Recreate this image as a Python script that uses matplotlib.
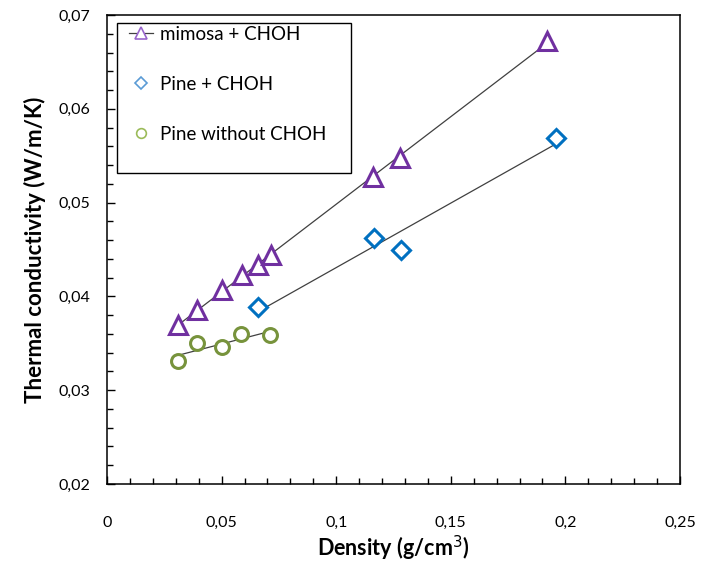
import numpy as np
import matplotlib
matplotlib.use("Agg")
import matplotlib.pyplot as plt
from matplotlib.lines import Line2D
from matplotlib.patches import Rectangle
from matplotlib.ticker import MultipleLocator, FuncFormatter

plt.rcParams["font.family"] = ["Lato", "DejaVu Sans"]

# density (g/cm3) and thermal conductivity (W/m/K)
mimosa_x = [0.0311, 0.0394, 0.0503, 0.0588, 0.0660, 0.0716, 0.1161, 0.1278, 0.1920]
mimosa_y = [0.0370, 0.0385, 0.0407, 0.0423, 0.0434, 0.0444, 0.0527, 0.0548, 0.0672]
pine_x = [0.0658, 0.1165, 0.1281, 0.1959]
pine_y = [0.0389, 0.0462, 0.0449, 0.0569]
pine_raw_x = [0.0308, 0.0391, 0.0500, 0.0583, 0.0711]
pine_raw_y = [0.0331, 0.0350, 0.0346, 0.0360, 0.0359]

PURPLE, BLUE, GREEN, TREND = "#7030A0", "#0070C0", "#77933C", "#404040"
W, H = 704, 565

fig = plt.figure(figsize=(W / 100, H / 100), dpi=100)
ax = fig.add_axes([107 / W, 1 - 484 / H, (680 - 107) / W, (484 - 15) / H])

series = [(mimosa_x, mimosa_y, "^", PURPLE, 13),
          (pine_x, pine_y, "D", BLUE, 9),
          (pine_raw_x, pine_raw_y, "o", GREEN, 10)]
for xs, ys, mk, col, ms in series:
    xs, ys = np.array(xs), np.array(ys)
    k, b = np.polyfit(xs, ys, 1)  # linear trendline over the data range
    xx = np.array([xs.min(), xs.max()])
    ax.plot(xx, k * xx + b, color=TREND, lw=0.9, zorder=2)
    ax.plot(xs, ys, ls="none", marker=mk, ms=ms, mfc="white", mec=col, mew=2.2, zorder=3)

ax.set_xlim(0, 0.25)
ax.set_ylim(0.02, 0.07)
ax.xaxis.set_major_locator(MultipleLocator(0.05))
ax.xaxis.set_minor_locator(MultipleLocator(0.01))
ax.yaxis.set_major_locator(MultipleLocator(0.01))
ax.yaxis.set_minor_locator(MultipleLocator(0.002))
comma = FuncFormatter(lambda v, p: ("%g" % round(v, 4)).replace(".", ","))
ax.xaxis.set_major_formatter(comma)
ax.yaxis.set_major_formatter(comma)
ax.tick_params(which="both", direction="in", width=1, top=False, right=False,
               labelsize=11.5, colors="black")
ax.tick_params(which="major", length=6)
ax.tick_params(which="minor", length=4)
ax.tick_params(axis="x", pad=23)
ax.tick_params(axis="y", pad=12)
for s in ax.spines.values():
    s.set_linewidth(1.1)

ax.set_xlabel("Density (g/cm$^3$)", fontsize=15.5, fontweight="bold", labelpad=3)
ax.set_ylabel("Thermal conductivity (W/m/K)", fontsize=16, fontweight="bold", labelpad=9)

# legend box as drawn in the original (taller than its entries)
ax.add_patch(Rectangle((117 / W, 1 - 173 / H), (351 - 117) / W, (173 - 23) / H,
                       transform=fig.transFigure, clip_on=False, fc="white",
                       ec="black", lw=1.0, zorder=4))
handles = [Line2D([], [], color=TREND, lw=0.9, marker="^", ms=8, mfc="white", mec="#9966CC", mew=1.2),
           Line2D([], [], ls="none", marker="D", ms=6, mfc="white", mec="#5B9BD5", mew=1.2),
           Line2D([], [], ls="none", marker="o", ms=7, mfc="white", mec="#9BBB59", mew=1.2)]
labels = ["mimosa + CHOH", "Pine + CHOH", "Pine without CHOH"]
leg = ax.legend(handles, labels, loc="upper left", bbox_to_anchor=(127 / W, 1 - 24 / H),
                bbox_transform=fig.transFigure, fontsize=13.5, frameon=False,
                labelspacing=1.75, handlelength=1.3, handletextpad=0.35,
                borderpad=0.1, borderaxespad=0)
leg.set_zorder(5)

fig.savefig("out.png", dpi=100)
